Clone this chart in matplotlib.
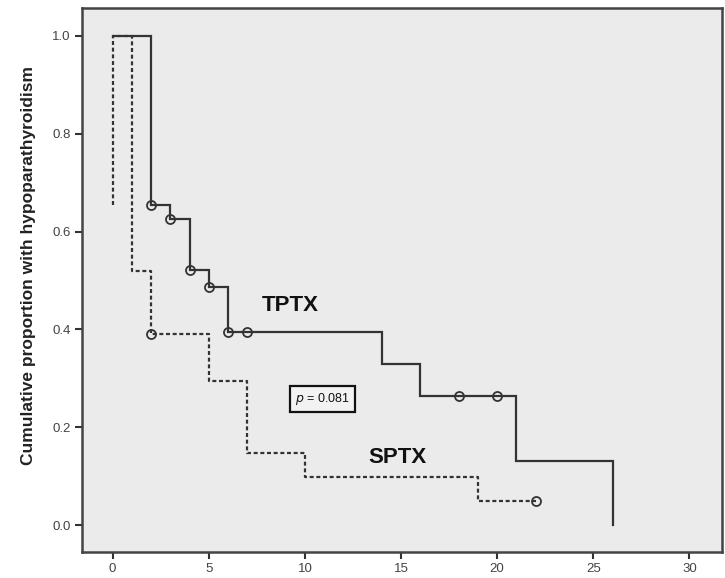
import numpy as np
import matplotlib
matplotlib.use("Agg")
import matplotlib.pyplot as plt

plt.rcParams["font.family"] = ["Liberation Sans", "DejaVu Sans"]

# step curves (time in months, cumulative proportion)
tptx_t = [0, 2, 3, 4, 5, 6, 14, 16, 21, 26]
tptx_y = [1.0, 0.655, 0.626, 0.521, 0.487, 0.394, 0.329, 0.263, 0.131, 0.0]
tptx_cens_t = [2, 3, 4, 5, 6, 7, 18, 20]
tptx_cens_y = [0.655, 0.626, 0.521, 0.487, 0.394, 0.394, 0.263, 0.263]

sptx_t = [0, 1, 2, 5, 7, 10, 19, 22]
sptx_y = [1.0, 0.52, 0.39, 0.294, 0.147, 0.099, 0.049, 0.049]
sptx_cens_t = [2, 22]
sptx_cens_y = [0.39, 0.049]
sptx_start_y = 0.655  # odd dashed stub at t=0

p_text = "$p$ = 0.081"

fig = plt.figure(figsize=(7.25, 5.78), dpi=100, facecolor="white")
ax = fig.add_axes([0.113, 0.045, 0.883, 0.941])
ax.set_facecolor("#ebebeb")

col = "#333333"

def step_xy(t, y):
    xs, ys = [t[0]], [y[0]]
    for i in range(1, len(t)):
        xs += [t[i], t[i]]
        ys += [y[i - 1], y[i]]
    return xs, ys

xs, ys = step_xy(tptx_t, tptx_y)
ax.plot(xs, ys, color=col, lw=1.6, solid_joinstyle="miter")
ax.plot(tptx_cens_t, tptx_cens_y, "o", ms=6.5, mfc="none", mec=col, mew=1.3)

xs, ys = step_xy(sptx_t, sptx_y)
xs = [0] + xs
ys = [sptx_start_y] + ys
ax.plot(xs, ys, color=col, lw=1.6, ls=(0, (1.8, 1.2)))
ax.plot(sptx_cens_t, sptx_cens_y, "o", ms=6.5, mfc="none", mec=col, mew=1.3)

ax.text(7.75, 0.448, "TPTX", fontsize=16, fontweight="bold", color="#111111",
        ha="left", va="center")
ax.text(13.3, 0.139, "SPTX", fontsize=16, fontweight="bold", color="#111111",
        ha="left", va="center")
ax.text(10.9, 0.258, p_text, fontsize=9, color="#111111", ha="center", va="center",
        bbox=dict(boxstyle="square,pad=0.4", fc="#f2f2f2", ec="#111111", lw=1.6))

ax.set_xlim(-1.6, 31.7)
ax.set_ylim(-0.055, 1.057)
ax.set_xticks([0, 5, 10, 15, 20, 25, 30])
ax.set_yticks([0.0, 0.2, 0.4, 0.6, 0.8, 1.0])
ax.set_yticklabels(["0.0", "0.2", "0.4", "0.6", "0.8", "1.0"])
ax.tick_params(direction="out", length=5, width=1.5, color="#333333",
               labelsize=9.5, labelcolor="#444444", pad=3)
for s in ax.spines.values():
    s.set_color("#444444")
    s.set_linewidth(1.8)

ax.set_ylabel("Cumulative proportion with hypoparathyroidism", fontsize=12.5,
              fontweight="bold", color="#222222", va="center")
ax.yaxis.set_label_coords(-0.084, 0.526)

fig.savefig("out.png", dpi=100)
